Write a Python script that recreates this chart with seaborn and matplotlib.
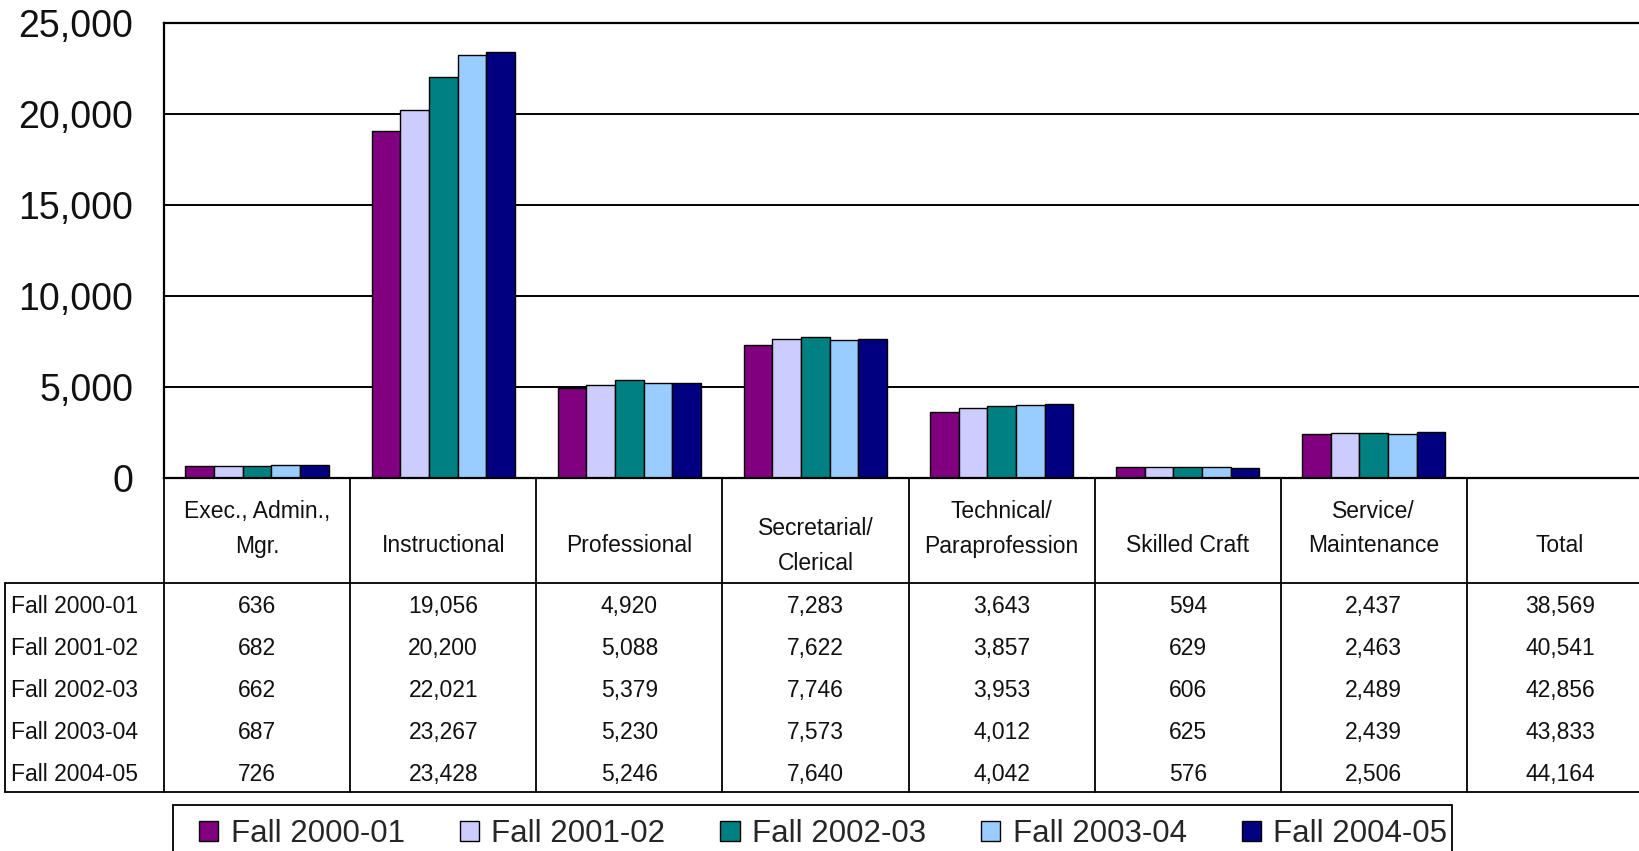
import matplotlib
matplotlib.use('Agg')
import numpy as np
import pandas as pd
import seaborn as sns
import matplotlib.pyplot as plt
from matplotlib.patches import Patch, Rectangle

# categories (trailing newline keeps the two-line headers top-aligned like the original)
categories = ["Exec., Admin.,\nMgr.\n", "Instructional", "Professional", "Secretarial/\nClerical",
              "Technical/\nParaprofession\n", "Skilled Craft", "Service/\nMaintenance\n"]
years = ["Fall 2000-01", "Fall 2001-02", "Fall 2002-03", "Fall 2003-04", "Fall 2004-05"]

exec_admin = [636, 682, 662, 687, 726]
instructional = [19056, 20200, 22021, 23267, 23428]
professional = [4920, 5088, 5379, 5230, 5246]
secretarial = [7283, 7622, 7746, 7573, 7640]
technical = [3643, 3857, 3953, 4012, 4042]
skilled_craft = [594, 629, 606, 625, 576]
service = [2437, 2463, 2489, 2439, 2506]
totals = [38569, 40541, 42856, 43833, 44164]

series = [exec_admin, instructional, professional, secretarial, technical, skilled_craft, service]
colors = ["#800080", "#CCCCFF", "#008080", "#99CCFF", "#000080"]

rows = []
for cat, vals in zip(categories, series):
    for yr, v in zip(years, vals):
        rows.append({"category": cat, "year": yr, "count": v})
df = pd.DataFrame(rows)

sns.set_style("white")
plt.rcParams['font.family'] = ['Liberation Sans', 'DejaVu Sans']

W, H = 1640, 851
fig = plt.figure(figsize=(W / 100, H / 100), dpi=100)

# plot area (px): left 164, right 1653 (runs past the edge like the source), top 23, zero line 478
left, right, top, zero = 164, 1653, 23, 478
ax = fig.add_axes([left / W, 1 - zero / H, (right - left) / W, (zero - top) / H])
sns.barplot(data=df, x="category", y="count", hue="year", palette=colors, width=0.77,
            edgecolor="black", linewidth=1, saturation=1, errorbar=None, legend=False, ax=ax)
ax.set_xlim(-0.5, 7.5)
ax.set_ylim(0, 25000)
ax.set_yticks(np.arange(0, 25001, 5000))
ax.set_yticklabels([f"{v:,}" for v in range(0, 25001, 5000)])
ax.tick_params(axis='y', length=0, pad=22, labelsize=27, labelcolor='#111111')
ax.set_xticks([])
ax.set_xlabel("")
ax.set_ylabel("")
ax.yaxis.grid(True, color='black', linewidth=1.4)
ax.set_axisbelow(True)
for s in ax.spines.values():
    s.set_color('black')
    s.set_linewidth(1.6)

# data table under the chart
tab_bottom = 792
tab = fig.add_axes([left / W, 1 - tab_bottom / H, (right - left) / W, (tab_bottom - zero) / H])
tab.set_xlim(-0.5, 7.5)
tab.set_ylim(tab_bottom - zero, 0)
tab.axis('off')
col_px = (right - left) / 8
hh = 105
rh = (tab_bottom - zero - hh) / 5
xl = -0.5 - (left - 5) / col_px
lk = dict(color='black', linewidth=1.3, clip_on=False)
for xb in np.arange(-0.5, 8.5, 1):
    tab.plot([xb, xb], [0, tab_bottom - zero], **lk)
tab.plot([xl, 8], [hh, hh], **lk)
tab.plot([xl, 8], [tab_bottom - zero, tab_bottom - zero], **lk)
tab.plot([xl, xl], [hh, tab_bottom - zero], **lk)

tfont = dict(fontsize=16.5, color='#111111', family=['Liberation Sans Narrow', 'Liberation Sans'])
for i, cat in enumerate(categories + ["Total"]):
    tab.text(i, 68, cat, ha='center', va='center', linespacing=1.65, clip_on=False, **tfont)
for r, yr in enumerate(years):
    y = hh + (r + 0.5) * rh + 3
    tab.text(xl + 6 / col_px, y, yr, ha='left', va='center', clip_on=False, **tfont)
    for i, vals in enumerate(series + [totals]):
        tab.text(i, y, f"{vals[r]:,}", ha='center', va='center', clip_on=False, **tfont)

# legend box (bottom runs off the page like the source)
fig.add_artist(Rectangle((173 / W, 1 - 870 / H), (1452 - 173) / W, (870 - 805) / H,
                         transform=fig.transFigure, facecolor='white', edgecolor='black',
                         linewidth=1.3))
handles = [Patch(facecolor=c, edgecolor='black', linewidth=1) for c in colors]
leg = fig.legend(handles, years, loc='center left', bbox_to_anchor=(199 / W, 1 - 834 / H),
                 ncol=5, frameon=False, fontsize=22.5, handlelength=0.62, handleheight=0.62,
                 handletextpad=0.4, columnspacing=1.75, borderpad=0, borderaxespad=0)

fig.savefig("out.png", dpi=100)
